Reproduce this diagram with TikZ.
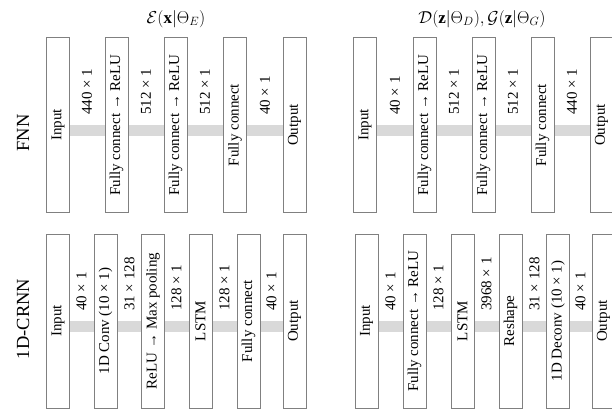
\documentclass[tikz,border=0pt]{standalone}
\usepackage{fontspec}
\setmainfont{Liberation Serif}
\usetikzlibrary{backgrounds}

\tikzset{
  blk/.style={draw=gray, line width=1pt, fill=white, rotate=90,
              minimum width=174pt, minimum height=23pt, inner sep=0pt,
              font=\fontsize{15}{17}\selectfont},
  dimlab/.style={rotate=90, anchor=west, inner sep=0pt,
                 font=\fontsize{15}{17}\selectfont},
  band/.style={draw=gray!30, line width=11pt},
  grouplab/.style={rotate=90, font=\fontsize{18.5}{20}\selectfont},
  titlelab/.style={font=\fontsize{17}{19}\selectfont}
}

\begin{document}
\begin{tikzpicture}[x=1pt, y=-1pt]
\useasboundingbox (0,0) rectangle (612,409);

% row labels
\node[grouplab] (lfnn) at (23,133) {FNN};
\node[grouplab] (lcrnn) at (23,319) {1D-CRNN};

% column titles
\node[titlelab] (tenc) at (176,19) {$\mathcal{E}(\mathbf{x}|\Theta_E)$};
\node[titlelab] (tdec) at (482,19) {$\mathcal{D}(\mathbf{z}|\Theta_D),\mathcal{G}(\mathbf{z}|\Theta_G)$};

% FNN encoder
\foreach \x/\t [count=\i] in {58/Input, 116.5/{Fully connect → ReLU},
    175.5/{Fully connect → ReLU}, 235/{Fully connect}, 294.5/Output}
  \node[blk] (fe\i) at (\x,125) {\t};
\foreach \x/\t [count=\i] in {87/{440 × 1}, 146/{512 × 1}, 205/{512 × 1}, 265/{40 × 1}}
  \node[dimlab] (fed\i) at (\x,115) {\t};

% FNN decoder
\foreach \x/\t [count=\i] in {365/Input, 424.5/{Fully connect → ReLU},
    483.5/{Fully connect → ReLU}, 542.5/{Fully connect}, 601.5/Output}
  \node[blk] (fd\i) at (\x,125) {\t};
\foreach \x/\t [count=\i] in {395/{40 × 1}, 454/{512 × 1}, 513/{512 × 1}, 572/{440 × 1}}
  \node[dimlab] (fdd\i) at (\x,115) {\t};

% 1D-CRNN encoder
\foreach \x/\t [count=\i] in {58/Input, 105.5/{1D Conv (10 × 1)},
    153/{ReLU → Max pooling}, 200.5/LSTM, 248.5/{Fully connect}, 294.5/Output}
  \node[blk] (ce\i) at (\x,321) {\t};
\foreach \x/\t [count=\i] in {81.5/{40 × 1}, 129.5/{31 × 128}, 176.5/{128 × 1},
    224.5/{128 × 1}, 271.5/{40 × 1}}
  \node[dimlab] (ced\i) at (\x,311) {\t};

% 1D-CRNN decoder
\foreach \x/\t [count=\i] in {366.5/Input, 414.5/{Fully connect → ReLU},
    462.5/LSTM, 510.5/Reshape, 558/{1D Deconv (10 × 1)}, 603.5/Output}
  \node[blk] (cd\i) at (\x,321) {\t};
\foreach \x/\t [count=\i] in {390.5/{40 × 1}, 438.5/{128 × 1}, 486.5/{3968 × 1},
    534.5/{31 × 128}, 580.5/{40 × 1}}
  \node[dimlab] (cdd\i) at (\x,311) {\t};

% grey data-flow bands behind the blocks
\begin{scope}[on background layer]
  \foreach \p/\n in {fe/4, fd/4, ce/5, cd/5}
    \foreach \i in {1,...,\n}{
      \pgfmathtruncatemacro{\j}{\i+1}
      \draw[band] ([yshift=-5.5pt]\p\i.center) -- ([yshift=-5.5pt]\p\j.center);
    }
\end{scope}
\end{tikzpicture}
\end{document}
